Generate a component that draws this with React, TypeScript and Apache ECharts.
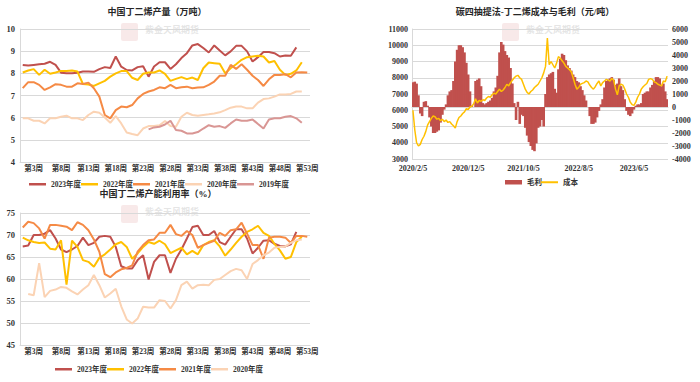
import React, { useEffect, useRef } from 'react';
import * as echarts from 'echarts';

const weekLabels: string[] = [];
for (let w = 1; w <= 53; w++) weekLabels.push(`第${w}周`);

const legendYears = ['2023年度', '2022年度', '2021年度', '2020年度', '2019年度'];

const prod2023 = [8.38, 8.35, 8.38, 8.41, 8.43, 8.52, 8.38, 8.03, 8.0, 8.0,
  8.03, 8.08, 8.08, 8.07, 8.19, 8.28, 8.24, 8.76, 8.3, 8.15,
  8.13, 8.28, 8.32, 7.85, 8.31, 8.5, 8.5, 8.2, 8.41, 8.69,
  8.91, 9.26, 9.32, 9.14, 8.94, 9.26, 9.03, 8.81, 8.99, 9.24,
  9.24, 8.99, 8.53, 8.73, 8.96, 8.96, 8.91, 8.76, 8.8, 8.79, 9.17];
const prod2022 = [8.04, 8.13, 8.19, 7.93, 8.16, 7.98, 8.04, 8.11, 8.1, 8.13,
  8.08, 7.52, 7.5, 7.43, 7.55, 7.66, 7.85, 8.0, 8.1, 8.1,
  7.8, 7.7, 7.98, 8.04, 8.04, 8.13, 7.98, 7.66, 7.75, 7.83,
  7.74, 7.81, 7.7, 8.23, 8.49, 8.46, 8.43, 8.0, 8.23, 8.41,
  8.61, 8.73, 8.76, 8.79, 8.76, 8.49, 8.56, 8.16, 7.93, 7.98, 8.13, 8.5];
const prod2021 = [7.33, 7.6, 7.6, 7.48, 7.25, 7.37, 7.51, 7.48, 7.4, 7.4,
  7.55, 7.52, 7.58, 7.33, 6.95, 6.12, 5.97, 6.34, 6.5, 6.47,
  6.57, 6.87, 7.07, 7.18, 7.25, 7.37, 7.33, 7.48, 7.33, 7.37,
  7.4, 7.33, 7.36, 7.37, 7.48, 7.63, 7.89, 7.89, 8.38, 8.2,
  8.41, 8.16, 7.89, 7.7, 7.43, 7.73, 7.93, 7.93, 7.96, 7.82, 8.04, 8.05, 8.04];
const prod2020 = [5.97, 5.97, 5.86, 5.86, 5.74, 5.97, 5.97, 6.04, 6.09, 5.97,
  5.97, 5.89, 6.12, 6.27, 6.22, 6.01, 5.77, 6.07, 5.74, 5.33,
  5.26, 5.21, 5.51, 5.62, 5.62, 5.66, 5.85, 5.62, 5.59, 6.04,
  6.22, 6.12, 6.09, 6.12, 6.15, 6.19, 6.24, 6.34, 6.45, 6.5,
  6.5, 6.42, 6.42, 6.68, 6.84, 6.87, 6.95, 7.05, 7.05, 7.07, 7.18, 7.18];
const prod2019 = [null, null, null, null, null, null, null, null, null, null,
  null, null, null, null, null, null, null, null, null, null,
  null, null, null, 5.47, 5.56, 5.59, 5.69, 5.86, 5.44, 5.41,
  5.29, 5.29, 5.35, 5.51, 5.66, 5.59, 5.62, 5.54, 5.74, 5.92,
  5.86, 5.86, 5.92, 5.71, 5.51, 5.92, 5.97, 5.97, 6.04, 6.07, 5.97, 5.77];

const util2023 = [67.4, 67.6, 70.0, 70.0, 70.3, 71.1, 69.2, 66.7, 66.1, 66.7,
  67.5, 69.4, 67.7, 68.2, 69.6, 69.8, 69.6, 67.3, 62.9, 62.4,
  62.4, 64.3, 65.4, 59.9, 63.9, 65.4, 65.4, 61.4, 64.6, 66.7,
  69.2, 71.8, 72.1, 70.0, 70.0, 70.9, 68.4, 67.8, 69.6, 71.3,
  71.3, 69.2, 65.8, 67.1, 68.7, 68.8, 68.0, 67.5, 67.4, 67.9, 70.7];
const util2022 = [69.4, 68.8, 68.4, 68.2, 68.3, 66.9, 66.7, 68.8, 58.7, 68.7,
  67.3, 64.3, 63.9, 62.8, 64.8, 65.6, 66.7, 67.9, 68.4, 67.3,
  64.6, 65.8, 67.3, 68.4, 68.0, 68.7, 67.9, 65.9, 66.5, 67.1,
  65.6, 66.4, 65.6, 67.7, 68.4, 68.8, 67.4, 65.3, 66.7, 68.2,
  69.6, 70.7, 71.3, 72.1, 70.5, 69.8, 68.0, 66.5, 64.6, 65.0, 68.4, 69.6];
const util2021 = [71.7, 73.0, 72.7, 71.5, 69.2, 72.3, 72.3, 72.1, 71.9, 71.1,
  72.9, 72.3, 71.1, 69.0, 66.2, 61.1, 60.4, 61.5, 62.2, 62.5,
  63.1, 66.2, 67.7, 68.8, 69.0, 70.5, 70.5, 72.3, 70.2, 69.8,
  70.9, 70.0, 67.1, 67.7, 68.2, 68.7, 70.5, 69.8, 71.1, 71.3,
  72.8, 70.3, 67.7, 67.7, 64.6, 69.4, 69.6, 69.6, 69.4, 68.2, 69.8, 69.8, 69.6];
const util2020 = [null, 56.6, 56.3, 63.6, 55.9, 57.3, 57.6, 58.2, 58.0, 57.2,
  56.5, 57.6, 58.6, 60.9, 58.6, 55.8, 56.7, 57.8, 53.8, 50.8,
  49.9, 51.0, 53.7, 53.5, 53.5, 55.2, 55.0, 53.3, 55.2, 58.6,
  59.4, 57.8, 58.6, 58.7, 58.6, 59.8, 60.0, 60.9, 61.8, 62.3,
  62.0, 60.0, 63.4, 64.3, 65.4, 66.0, 67.1, 67.3, 67.4, 68.2, 68.8, 69.0];

// Right chart: dates on the 5th/15th/25th of each month from 2020/2/5
const dateLabels: string[] = [];
for (let i = 0; i < 139; i++) {
  const m = 1 + Math.floor(i / 3);
  const y = 2020 + Math.floor(m / 12);
  const mm = (m % 12) + 1;
  const d = [5, 15, 25][i % 3];
  dateLabels.push(`${y}/${mm}/${d}`);
}

const profit = [1900, 1950, 1800, 900, -500, -700, 400, 450, 100, -800,
  -1500, -2000, -2000, -1900, -1800, -1200, -600, -200, 200, 900,
  1200, 1300, 2000, 3500, 4400, 4750, 4750, 4600, 4200, 3400,
  2500, 1200, 100, 0, 2000, 2100, 2200, 1600, 300, 200,
  300, 400, 500, 700, 1200, 1500, 2400, 4200, 5000, 4800,
  4300, 4000, 3800, 3000, 1800, 300, -1000, 400, -1300, -600,
  -700, -1600, -2200, -2700, -3000, -3300, -3400, -2800, -1600, -1500,
  -1000, -1500, 1000, 2300, 2500, 2600, 2700, 1400, 1100, 2900,
  3700, 4100, 4000, 3600, 3200, 3000, 2800, 2500, 2300, 2000,
  1900, 1600, 1300, 900, 500, 0, -700, -1300, -1300, -1200,
  -800, -300, 200, 600, 1500, 2000, 2100, 2200, 2300, 2100,
  1700, 1800, 2200, 1600, 1300, 600, -300, -600, -700, -500,
  -200, 100, 200, 200, 300, 1000, 1100, 1200, 1200, 1500,
  1700, 2000, 2300, 2300, 2200, 1600, 1800, 1200, 600];
const cost = [6000, 4800, 4000, 3800, 3900, 4200, 4400, 4700, 5100, 5300,
  5500, 5650, 5600, 5450, 5500, 5350, 5450, 5300, 5400, 5250,
  5300, 5150, 5050, 4900, 5300, 5550, 5650, 5800, 5900, 6100,
  6050, 6200, 6250, 6400, 6700, 6450, 6600, 6550, 6650, 6600,
  6750, 6850, 6800, 6950, 7050, 7000, 7150, 7300, 7150, 7250,
  7400, 7600, 7500, 7700, 7850, 8000, 8100, 8150, 8000, 7900,
  7600, 7300, 7100, 7000, 7150, 7250, 7400, 7500, 7600, 7800,
  8000, 8300, 8700, 10450, 8800, 9000, 8800, 8600, 8900, 9300,
  9200, 9050, 8900, 8700, 8600, 8500, 8350, 8000, 7600, 7300,
  7400, 7600, 7650, 7700, 7800, 7750, 7550, 7400, 7300, 7450,
  7650, 7800, 7500, 7700, 7800, 7900, 7850, 7800, 7950, 7850,
  7300, 6950, 7500, 7600, 7550, 7300, 7000, 6800, 6500, 6350,
  6300, 6500, 6800, 7000, 7300, 7450, 7550, 7650, 7900, 7950,
  7900, 7750, 7700, 7600, 7550, 7500, 7800, 7750, 8100];

const C2023 = '#C0504D';
const C2022 = '#FFC000';
const C2021 = '#F58A45';
const C2020 = '#FBD3B4';
const C2019 = '#D99694';
const FONT = "'Liberation Serif', 'Noto Sans CJK SC', serif";
const GRID_C = '#D9D9D9';
const TXT = '#333333';

const plain = (v: number) => String(v);

function lineSeries(name: string, data: (number | null)[], color: string, gi: number) {
  return {
    name, type: 'line', data, xAxisIndex: gi, yAxisIndex: gi,
    symbol: 'none', showSymbol: false, connectNulls: false,
    lineStyle: { width: 2, color }, itemStyle: { color },
  };
}

function weekXAxis(gi: number) {
  return {
    gridIndex: gi, type: 'category', data: weekLabels, boundaryGap: true,
    axisLine: { show: true, lineStyle: { color: GRID_C } },
    axisTick: { show: false },
    axisLabel: {
      interval: (idx: number) => idx % 5 === 2,
      fontSize: 7.5, fontWeight: 'bold', color: TXT, fontFamily: FONT, margin: 3,
    },
  };
}

function valYAxis(gi: number, min: number, max: number, interval: number, margin = 5) {
  return {
    gridIndex: gi, type: 'value', min, max, interval,
    axisLine: { show: true, lineStyle: { color: GRID_C } },
    axisTick: { show: false },
    splitLine: { show: true, lineStyle: { color: GRID_C, width: 1 } },
    axisLabel: { fontSize: 8.5, fontWeight: 'bold', color: TXT, fontFamily: FONT, margin, formatter: plain },
  };
}

const titleStyle = { fontSize: 9, fontWeight: 'bold', color: '#262626', fontFamily: FONT };
const legendText = { fontSize: 7.5, fontWeight: 'bold', color: TXT, fontFamily: FONT };

function watermark(x: number, y: number) {
  return [
    { type: 'rect', shape: { x, y, width: 17, height: 18, r: 2 }, style: { fill: 'rgba(214,120,120,0.16)' }, silent: true, z: -1 },
    { type: 'text', x: x + 24, y: y + 2, style: { text: '紫金天风期货', fill: 'rgba(180,180,180,0.35)', font: "bold 9px 'Noto Sans CJK SC'" }, silent: true, z: -1 },
  ];
}

export default function App() {
  const ref = useRef<HTMLDivElement>(null);
  useEffect(() => {
    if (!ref.current) return;
    const chart = echarts.init(ref.current, undefined, { renderer: 'svg' });
    const option: any = {
      animation: false,
      backgroundColor: '#ffffff',
      title: [
        { text: '中国丁二烯产量（万吨）', left: 157, top: 7, padding: 0, textAlign: 'center', textStyle: titleStyle },
        { text: '中国丁二烯产能利用率（%）', left: 158, top: 189, padding: 0, textAlign: 'center', textStyle: titleStyle },
        { text: '碳四抽提法-丁二烯成本与毛利（元/吨）', left: 535, top: 7, padding: 0, textAlign: 'center', textStyle: titleStyle },
      ],
      graphic: [...watermark(121, 23), ...watermark(121, 205), ...watermark(502, 23)],
      legend: [
        { left: 29, top: 180.5, padding: 0, icon: 'rect', itemWidth: 17, itemHeight: 2.5, itemGap: 0, selectedMode: false, data: legendYears, textStyle: legendText },
        { left: 55, top: 365.5, padding: 0, icon: 'rect', itemWidth: 17, itemHeight: 2.5, itemGap: 0, selectedMode: false, data: legendYears.slice(0, 4), textStyle: legendText },
        { left: 505, top: 178.5, padding: 0, icon: 'rect', itemWidth: 17, itemHeight: 4.5, itemGap: 0, selectedMode: false, data: ['毛利'], textStyle: legendText },
        { left: 541, top: 178.5, padding: 0, icon: 'rect', itemWidth: 17, itemHeight: 2, itemGap: 0, selectedMode: false, data: ['成本'], textStyle: legendText },
      ],
      grid: [
        { left: 20, width: 290, top: 29, height: 133, outerBoundsMode: 'none', containLabel: false },
        { left: 20, width: 290, top: 213, height: 132, outerBoundsMode: 'none', containLabel: false },
        { left: 412, width: 256, top: 29, height: 130, outerBoundsMode: 'none', containLabel: false },
      ],
      xAxis: [
        weekXAxis(0),
        weekXAxis(1),
        {
          gridIndex: 2, type: 'category', data: dateLabels, boundaryGap: true,
          axisLine: { show: true, lineStyle: { color: GRID_C } },
          axisTick: { show: false },
          axisLabel: { interval: 29, fontSize: 8, fontWeight: 'bold', color: TXT, fontFamily: FONT, margin: 5, lineHeight: 9 },
        },
      ],
      yAxis: [
        valYAxis(0, 4, 10, 1),
        valYAxis(1, 45, 75, 5),
        { ...valYAxis(2, 3000, 11000, 1000, 4), axisLabel: { fontSize: 8, fontWeight: 'bold', color: TXT, fontFamily: FONT, margin: 4, formatter: plain, lineHeight: 9 } },
        {
          gridIndex: 2, type: 'value', position: 'right', min: -4000, max: 6000, interval: 1000,
          axisLine: { show: false }, axisTick: { show: false }, splitLine: { show: false },
          axisLabel: { fontSize: 8, fontWeight: 'bold', color: TXT, fontFamily: FONT, margin: 4, formatter: plain },
        },
      ],
      series: [
        lineSeries('2023年度', prod2023, C2023, 0),
        lineSeries('2022年度', prod2022, C2022, 0),
        lineSeries('2021年度', prod2021, C2021, 0),
        lineSeries('2020年度', prod2020, C2020, 0),
        lineSeries('2019年度', prod2019, C2019, 0),
        lineSeries('2023年度', util2023, C2023, 1),
        lineSeries('2022年度', util2022, C2022, 1),
        lineSeries('2021年度', util2021, C2021, 1),
        lineSeries('2020年度', util2020, C2020, 1),
        {
          name: '毛利', type: 'bar', data: profit, xAxisIndex: 2, yAxisIndex: 3,
          barWidth: 2.6, large: false,
          itemStyle: { color: C2023 },
        },
        {
          name: '成本', type: 'line', data: cost, xAxisIndex: 2, yAxisIndex: 2,
          symbol: 'none', showSymbol: false,
          lineStyle: { width: 1.5, color: C2022 }, itemStyle: { color: C2022 },
        },
      ],
    };
    chart.setOption(option);
    return () => chart.dispose();
  }, []);
  return <div ref={ref} style={{ position: 'fixed', left: 0, top: 0, width: 700, height: 382, background: '#fff' }} />;
}
